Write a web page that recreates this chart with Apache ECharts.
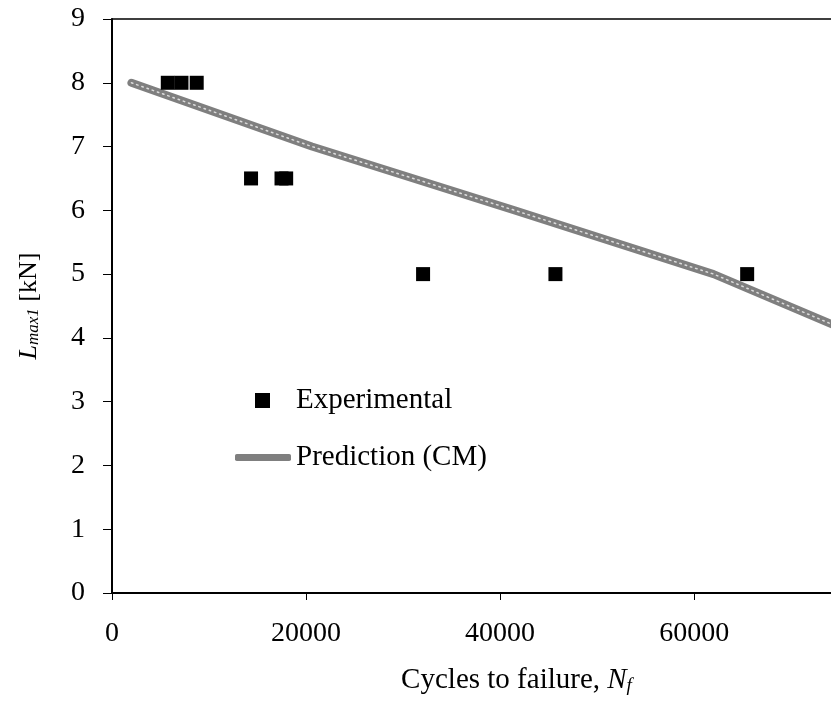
<!DOCTYPE html>
<html>
<head>
<meta charset="utf-8">
<title>Cycles to failure</title>
<script src="https://cdn.jsdelivr.net/npm/echarts@6/dist/echarts.min.js"></script>
<style>
  html, body { margin: 0; padding: 0; background: #fff; }
  #chart { width: 831px; height: 711px; }
</style>
</head>
<body>
<div id="chart"></div>
<script>
// Experimental fatigue results: cycles to failure at each maximum load level
const expCycles = [5750, 7160, 8730, 14330, 17470, 17950, 32060, 45700, 65460];
const expLoad = [8, 8, 8, 6.5, 6.5, 6.5, 5, 5, 5];

// Prediction (CM) curve
const predCycles = [2000, 20600, 41500, 62000, 77500];
const predLoad = [8, 7, 6, 5, 4];

// Axis ranges
const xMin = 0, xMax = 74100, xStep = 20000;
const yMin = 0, yMax = 9, yStep = 1;

const FONT = 'Liberation Serif';
const LINE_GREY = '#7f7f7f';

const expData = expCycles.map((c, i) => [c, expLoad[i]]);
const predData = predCycles.map((c, i) => [c, predLoad[i]]);

const chart = echarts.init(document.getElementById('chart'), null, { renderer: 'canvas' });

// rich styles for axis titles (roman, italic, italic subscript)
function richStyles(size, subSize) {
  return {
    t: { fontFamily: FONT, fontSize: size, color: '#000', verticalAlign: 'bottom', lineHeight: size },
    i: { fontFamily: FONT, fontSize: size, fontStyle: 'italic', color: '#000', verticalAlign: 'bottom', lineHeight: size },
    s: { fontFamily: FONT, fontSize: subSize, fontStyle: 'italic', color: '#000', verticalAlign: 'bottom', lineHeight: subSize }
  };
}

const plainNumber = v => String(v);

chart.setOption({
  animation: false,
  backgroundColor: '#fff',
  grid: { left: 112, right: 0, top: 19, bottom: 118, containLabel: false },
  xAxis: [{
    type: 'value',
    min: xMin, max: xMax, interval: xStep,
    position: 'bottom',
    name: '{t|Cycles to failure, }{i|N}{s|f}',
    nameLocation: 'middle',
    nameGap: 73,
    nameTextStyle: { rich: richStyles(29, 19), padding: [0, 0, 0, 90] },
    axisLine: { show: true, onZero: false, lineStyle: { color: '#000', width: 2 } },
    axisTick: { show: true, inside: false, length: 7, lineStyle: { color: '#000', width: 1 } },
    axisLabel: { fontFamily: FONT, fontSize: 28, color: '#000', margin: 27, showMaxLabel: false, formatter: plainNumber },
    splitLine: { show: false }
  }, {
    type: 'value',
    min: xMin, max: xMax,
    position: 'top',
    axisLine: { show: true, onZero: false, lineStyle: { color: '#000', width: 1.5 } },
    axisTick: { show: false },
    axisLabel: { show: false },
    splitLine: { show: false }
  }],
  yAxis: {
    type: 'value',
    min: yMin, max: yMax, interval: yStep,
    name: '{i|L}{s|max1}{t| [kN]}',
    nameLocation: 'middle',
    nameGap: 70,
    nameTextStyle: { rich: richStyles(26, 17) },
    axisLine: { show: true, onZero: false, lineStyle: { color: '#000', width: 2 } },
    axisTick: { show: true, inside: false, length: 9, lineStyle: { color: '#000', width: 1 } },
    axisLabel: { fontFamily: FONT, fontSize: 28, color: '#000', margin: 27, formatter: plainNumber },
    splitLine: { show: false }
  },
  legend: [{
    data: [{ name: 'Experimental', icon: 'rect' }],
    orient: 'vertical',
    left: 255, top: 386,
    padding: 0,
    itemWidth: 15, itemHeight: 15,
    textStyle: { fontFamily: FONT, fontSize: 29, color: '#000', padding: [0, 0, 0, 21] },
    selectedMode: false
  }, {
    data: [{ name: 'Prediction (CM)', icon: 'roundRect' }],
    orient: 'vertical',
    left: 235, top: 443,
    padding: 0,
    itemWidth: 56, itemHeight: 7,
    itemStyle: { color: LINE_GREY },
    textStyle: { fontFamily: FONT, fontSize: 29, color: '#000' },
    selectedMode: false
  }],
  series: [{
    name: 'Prediction (CM)',
    type: 'line',
    data: predData,
    symbol: 'none',
    smooth: false,
    clip: true,
    lineStyle: { color: LINE_GREY, width: 8, cap: 'round', join: 'round' },
    itemStyle: { color: LINE_GREY },
    z: 2
  }, {
    // light dotted texture running along the prediction curve
    name: 'prediction-texture',
    type: 'line',
    data: predData,
    symbol: 'none',
    silent: true,
    clip: true,
    lineStyle: { color: '#dcdcdc', width: 1.5, type: [1.5, 4], cap: 'round' },
    z: 3
  }, {
    name: 'Experimental',
    type: 'scatter',
    data: expData,
    symbol: 'rect',
    symbolSize: 14,
    itemStyle: { color: '#000', opacity: 1 },
    z: 4
  }]
});
</script>
</body>
</html>
